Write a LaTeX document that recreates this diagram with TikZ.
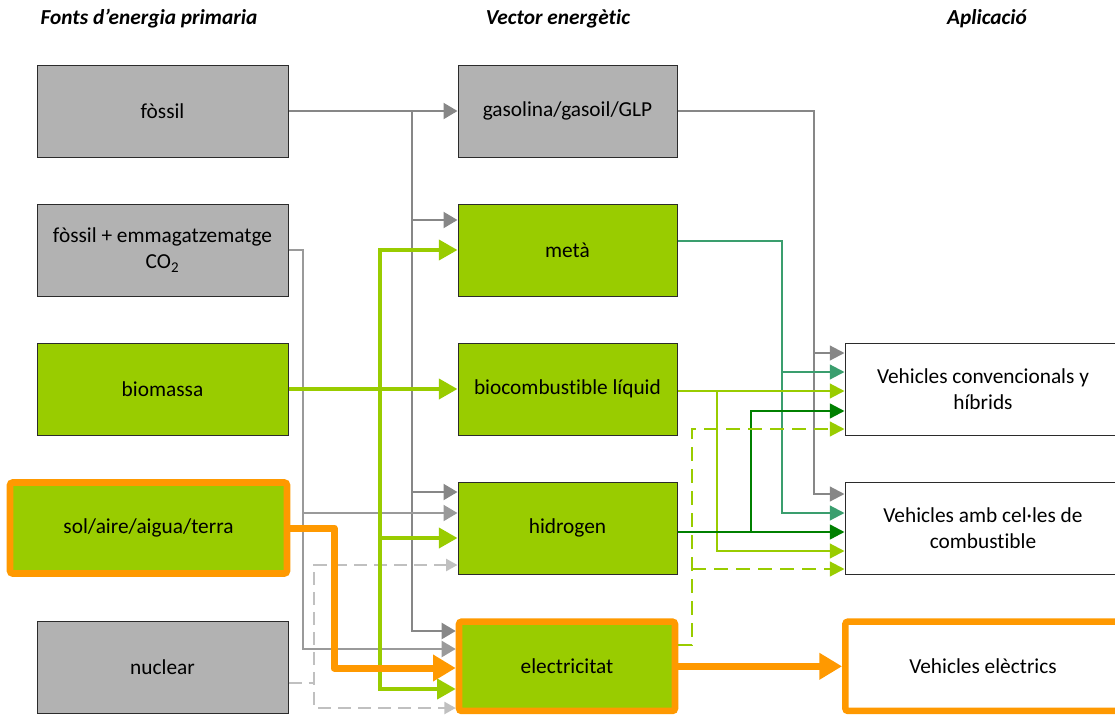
\documentclass[tikz,border=0pt]{standalone}
\usepackage{fontspec}
\setmainfont{Carlito}[Ligatures=NoCommon]
\usetikzlibrary{arrows.meta}

\definecolor{boxgray}{HTML}{B2B2B2}
\definecolor{boxgreen}{HTML}{99CC00}
\definecolor{boxline}{HTML}{2B2B2B}
\definecolor{flowgray}{HTML}{878787}
\definecolor{flowgrayb}{HTML}{9A9A9A}
\definecolor{flowpale}{HTML}{C0C0C0}
\definecolor{flowteal}{HTML}{3A9E6E}
\definecolor{flowdark}{HTML}{008000}
\definecolor{floworange}{HTML}{FF9900}

\tikzset{
  txt/.style={font=\fontsize{16}{19.5}\selectfont},
  hdr/.style={font=\bfseries\itshape\fontsize{16}{19.5}\selectfont, inner sep=0pt},
  base/.style={txt, draw=boxline, line width=0.75pt, inner sep=0pt, align=center, minimum height=69pt},
  src/.style={base, minimum width=188.25pt},
  vec/.style={base, minimum width=164.25pt},
  app/.style={base, minimum width=207pt, fill=white},
  grayfill/.style={fill=boxgray},
  greenfill/.style={fill=boxgreen},
  hilite/.style={draw=floworange, line width=4.9pt, rounded corners=2pt},
  % connector styles
  fgray/.style={draw=flowgray, line width=1.6pt},
  fgrayb/.style={draw=flowgrayb, line width=1.6pt},
  fpale/.style={draw=flowpale, line width=1.6pt, dash pattern=on 9.75pt off 5.25pt},
  fgreen/.style={draw=boxgreen, line width=3pt},
  forange/.style={draw=floworange, line width=5.25pt, line join=round},
  fteal/.style={draw=flowteal, line width=1.6pt},
  flgreen/.style={draw=boxgreen, line width=1.6pt},
  fdark/.style={draw=flowdark, line width=1.8pt},
  fgdash/.style={draw=boxgreen, line width=1.6pt, dash pattern=on 10.5pt off 6pt},
  tipG/.style={-{Triangle[length=10.5pt,width=12pt]}},
  tipL/.style={-{Triangle[length=14pt,width=15pt]}},
  tipLL/.style={{Triangle[length=14pt,width=15pt]}-{Triangle[length=14pt,width=15pt]}},
  tipO/.style={-{Triangle[length=17pt,width=19pt]}},
  tipD/.style={{Triangle[length=8.5pt,width=9pt]}-{Triangle[length=8.5pt,width=9pt]}},
  tipS/.style={-{Triangle[length=11pt,width=11pt]}},
}

\begin{document}
\begin{tikzpicture}[x=0.75pt, y=-0.75pt]
\useasboundingbox (0,0) rectangle (1115,715);
\clip (0,0) rectangle (1115,715);

% column headings
\node[hdr] (h1) at (149,18.5) {Fonts d’energia primaria};
\node[hdr] (h2) at (558,18.5) {Vector energètic};
\node[hdr] (h3) at (987,18.5) {Aplicació};

% primary sources
\node[src, grayfill] (fossil) at (162.5,111) {fòssil};
\node[src, grayfill] (co2) at (162.5,250) {fòssil + emmagatzematge\\CO\textsubscript{2}};
\node[src, greenfill] (bio) at (162.5,389) {biomassa};
\node[src, greenfill, hilite, minimum width=207.75pt, minimum height=68.25pt] (sol) at (148.5,528) {sol/aire/aigua/terra};
\node[src, grayfill] (nuc) at (162.5,667) {nuclear};

% energy carriers
\node[vec, grayfill] (gas) at (567.5,111) {gasolina/gasoil/GLP};
\node[vec, greenfill] (meta) at (567.5,250) {metà};
\node[vec, greenfill] (biocomb) at (567.5,389) {biocombustible líquid};
\node[vec, greenfill] (hid) at (567.5,528) {hidrogen};
\node[vec, greenfill, hilite, minimum width=162pt, minimum height=67pt] (elec) at (567,666.3) {electricitat};

% applications
\node[app] (conv) at (983,389) {Vehicles convencionals y\\híbrids};
\node[app] (cel) at (983,528) {Vehicles amb cel·les de\\combustible};
\node[app, hilite, minimum width=206.5pt, minimum height=67pt] (ve) at (983,666.3) {Vehicles elèctrics};

% ---- sources to carriers ----
% fossil
\coordinate (g0) at (412,111);
\coordinate (g1) at (412,220);
\coordinate (g2) at (412,492);
\coordinate (g3) at (412,631);
\draw[fgray, tipG] (fossil.east) -- (gas.west);
\draw[fgray, tipG] (g0) -- (g3) -- (g3 -| elec.west);
\draw[fgray, tipG] (g1) -- (g1 -| meta.west);
\draw[fgray, tipG] (g2) -- (g2 -| hid.west);

% fossil with CO2 storage
\coordinate (c0) at (303,250);
\coordinate (c1) at (303,513);
\coordinate (c2) at (303,649);
\draw[fgrayb, tipG] (co2.east) -- (c0) -- (c2) -- (c2 -| elec.west);
\draw[fgrayb, tipG] (c1) -- (c1 -| hid.west);

% nuclear (dashed)
\coordinate (n0) at (314,683);
\coordinate (n1) at (314,565);
\coordinate (n2) at (314,708);
\draw[fpale] (n0 -| nuc.east) -- (n0);
\draw[fpale, tipD] (n1 -| hid.west) -- (n1) -- (n2) -- (n2 -| elec.west);

% biomass
\coordinate (b0) at (380,250);
\coordinate (b1) at (380,538);
\coordinate (b2) at (380,689);
\draw[fgreen, tipL] (bio.east) -- (biocomb.west);
\draw[fgreen, tipLL] (b0 -| meta.west) -- (b0) -- (b2) -- (b2 -| elec.west);
\draw[fgreen, tipL] (b1) -- (b1 -| hid.west);

% ---- carriers to applications ----
% petrol products
\coordinate (r0) at (814,111);
\coordinate (r1) at (814,353);
\coordinate (r2) at (814,494);
\draw[fgray, tipS] (gas.east) -- (r0) -- (r2) -- (r2 -| cel.west);
\draw[fgray, tipS] (r1) -- (r1 -| conv.west);

% methane
\coordinate (t0) at (782,241);
\coordinate (t1) at (782,372);
\coordinate (t2) at (782,513);
\draw[fteal, tipS] (t0 -| meta.east) -- (t0) -- (t2) -- (t2 -| cel.west);
\draw[fteal, tipS] (t1) -- (t1 -| conv.west);

% liquid biofuel
\coordinate (l0) at (717,391);
\coordinate (l1) at (717,551);
\draw[flgreen, tipS] (l0 -| biocomb.east) -- (l0 -| conv.west);
\draw[flgreen, tipS] (l0) -- (l1) -- (l1 -| cel.west);

% hydrogen
\coordinate (d0) at (751,532);
\coordinate (d1) at (751,411);
\draw[fdark, tipS] (d0 -| hid.east) -- (d0 -| cel.west);
\draw[fdark, tipS] (d0) -- (d1) -- (d1 -| conv.west);

% electricity (dashed)
\coordinate (e0) at (692,645);
\coordinate (e1) at (692,429);
\coordinate (e2) at (692,569);
\draw[fgdash, tipS] (e0 -| elec.east) -- (e0) -- (e1) -- (e1 -| conv.west);
\draw[fgdash, tipS] (e2) -- (e2 -| cel.west);

% renewable electricity path
\coordinate (o0) at (334,528);
\coordinate (o1) at (334,668);
\draw[forange, tipO] (sol.east) -- (o0) -- (o1) -- (o1 -| elec.west);
\draw[forange, tipO] (elec.east) -- (ve.west);
\end{tikzpicture}
\end{document}
